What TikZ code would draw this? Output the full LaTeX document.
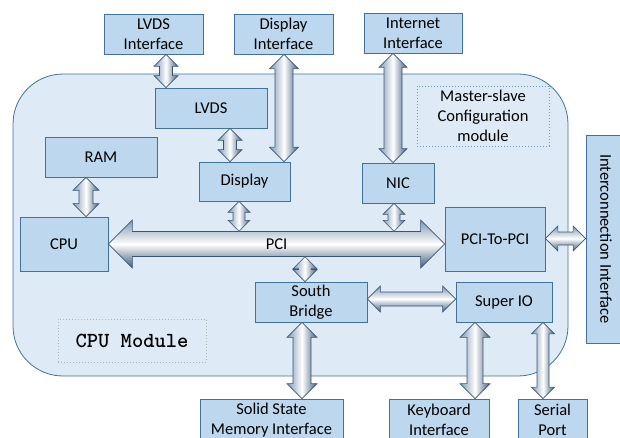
\documentclass[tikz,border=0pt]{standalone}
\usepackage{fontspec}
\setmainfont{Carlito}
\usetikzlibrary{calc}
\definecolor{boxfill}{HTML}{BDD7EE}
\definecolor{boxline}{HTML}{41719C}
\definecolor{modfill}{HTML}{DEEBF7}
\definecolor{busA}{HTML}{7F97B1}
\definecolor{busB}{HTML}{405C7C}
\definecolor{busline}{HTML}{3A5676}
\definecolor{msline}{HTML}{7099C4}
\definecolor{cpuline}{HTML}{B4B4B4}

\newcommand{\vbus}[4]{
\draw[bus,left color=busA,right color=busB,middle color=white]
  let \p1=#1, \p2=#2 in (\x1,\y1) -- (\x1+#4pt,\y1-#4pt) -- (\x1+#3pt,\y1-#4pt)
  -- (\x2+#3pt,\y2+#4pt) -- (\x2+#4pt,\y2+#4pt) -- (\x2,\y2) -- (\x2-#4pt,\y2+#4pt)
  -- (\x2-#3pt,\y2+#4pt) -- (\x1-#3pt,\y1-#4pt) -- (\x1-#4pt,\y1-#4pt) -- cycle;
}
\newcommand{\hbus}[4]{
\draw[bus,top color=busA,bottom color=busB,middle color=white]
  let \p1=#1, \p2=#2 in (\x1,\y1) -- (\x1+#4pt,\y1+#4pt) -- (\x1+#4pt,\y1+#3pt)
  -- (\x2-#4pt,\y2+#3pt) -- (\x2-#4pt,\y2+#4pt) -- (\x2,\y2) -- (\x2-#4pt,\y2-#4pt)
  -- (\x2-#4pt,\y2-#3pt) -- (\x1+#4pt,\y1-#3pt) -- (\x1+#4pt,\y1-#4pt) -- cycle;
}

\begin{document}
\begin{tikzpicture}[x=1pt,y=-1pt,
  txt/.style={font=\fontsize{16.5}{20}\selectfont},
  box/.style={txt,draw=boxline,fill=boxfill,line width=0.8pt,inner sep=0pt,align=center},
  bus/.style={draw=busline,line width=0.6pt},
  dotbox/.style={draw,dotted,line width=1pt,inner sep=0pt,align=center}]

\useasboundingbox (0,0) rectangle (620,437);
\draw[draw=boxline,fill=modfill,line width=0.8pt,rounded corners=50pt] (13,74) rectangle (568,376);

\node[box,minimum width=99,minimum height=40] (lvdsif) at (153.5,34) {LVDS\\Interface};
\node[box,minimum width=99,minimum height=40] (dispif) at (283.5,34) {Display\\Interface};
\node[box,minimum width=98,minimum height=40] (netif) at (413,33) {Internet\\Interface};
\node[box,minimum width=112,minimum height=40] (lvds) at (211,108) {LVDS};
\node[box,minimum width=112,minimum height=40] (ram) at (101,157) {RAM};
\node[box,minimum width=91,minimum height=39] (disp) at (244.5,181.5) {Display};
\node[box,minimum width=72,minimum height=40] (nic) at (398,183) {NIC};
\node[txt,dotbox,draw=msline,minimum width=132,minimum height=60] (ms) at (483,116) {Master-slave\\Configuration\\module};
\node[box,minimum width=88,minimum height=54] (cpu) at (64,244) {CPU};
\node[box,minimum width=100,minimum height=64] (p2p) at (495,239) {PCI-To-PCI};
\node[box,minimum width=112,minimum height=40] (sb) at (311,302) {South\\Bridge};
\node[box,minimum width=96,minimum height=40] (sio) at (504,302) {Super IO};
\node[box,minimum width=143,minimum height=42] (ssm) at (271.5,420) {Solid State\\Memory Interface};
\node[box,minimum width=100,minimum height=42] (kb) at (439,420) {Keyboard\\Interface};
\node[box,minimum width=69,minimum height=42] (serial) at (552.5,420) {Serial\\Port};
\node[box,minimum width=40,minimum height=208] (icon) at (606,239) {\rotatebox{-90}{Interconnection Interface}};
\node[dotbox,draw=cpuline,minimum width=148,minimum height=43,font=\ttfamily\bfseries\fontsize{21.5}{24}\selectfont] (cpumod) at (132,340.5) {CPU Module};

\hbus{(cpu.east)}{(p2p.west |- cpu.east)}{12.5}{24}
\node[txt,inner sep=0pt,minimum width=337,minimum height=25] (pci) at ($(cpu.east)!0.5!(p2p.west |- cpu.east)$) {PCI};
\hbus{(sb.east |- 0,299)}{(sio.west |- 0,299)}{7}{13}
\hbus{(p2p.east |- 0,238.5)}{(icon.west |- 0,238.5)}{6.5}{12.5}

\foreach \c/\a/\b/\s/\h in {166/lvdsif/lvds/6.5/12, 230/lvds/disp/6.5/12, 284/dispif/disp/9/14.5,
  393/netif/nic/9/14, 86/ram/cpu/7/13, 239/disp/pci/6/11, 394/nic/pci/6/11, 305/pci/sb/6.5/12,
  302/sb/ssm/9/15, 475/sio/kb/8/15, 543/sio/serial/6/11.5}{
  \vbus{(\c,0 |- \a.south)}{(\c,0 |- \b.north)}{\s}{\h}
}

\end{tikzpicture}
\end{document}
